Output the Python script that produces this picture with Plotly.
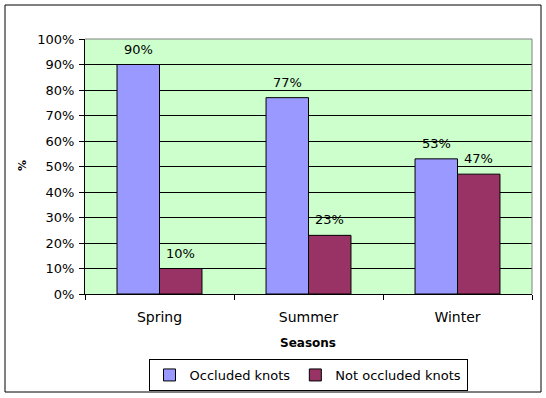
import plotly.graph_objects as go

categories = ["Spring", "Summer", "Winter"]
occluded = [90, 77, 53]
not_occluded = [10, 23, 47]
tick_vals = [0, 10, 20, 30, 40, 50, 60, 70, 80, 90, 100]
tick_text = [f"{v}%" for v in tick_vals]

FONT = "Verdana, DejaVu Sans, Arial, sans-serif"

fig = go.Figure()
fig.add_trace(go.Bar(
    x=categories, y=occluded, name="Occluded knots",
    marker=dict(color="#9999FF", line=dict(color="black", width=1)),
))
fig.add_trace(go.Bar(
    x=categories, y=not_occluded, name="Not occluded knots",
    marker=dict(color="#993366", line=dict(color="black", width=1)),
))

L, R, T, B = 85, 14, 39, 104
W, H = 546, 398
pw, ph = W - L - R, H - T - B

def px(x):
    return (x - L) / pw

def py(y):
    return (H - B - y) / ph

annotations = []
for series, shift in ((occluded, -21), (not_occluded, 21)):
    for cat, v in zip(categories, series):
        annotations.append(dict(
            x=cat, y=v, xref="x", yref="y", text=f"{v}%", showarrow=False,
            xshift=shift, yanchor="bottom", yshift=6,
            font=dict(size=13, family=FONT, color="black"),
        ))

annotations += [
    dict(text="<b>Seasons</b>", xref="paper", yref="paper",
         x=px(308), y=py(343), xanchor="center", yanchor="middle",
         showarrow=False, font=dict(size=12, family=FONT)),
    dict(text="<b>%</b>", xref="paper", yref="paper",
         x=px(22), y=py(166), xanchor="center", yanchor="middle",
         textangle=-90, showarrow=False, font=dict(size=11, family=FONT)),
]

fig.update_layout(
    width=W, height=H,
    margin=dict(l=L, r=R, t=T, b=B, pad=0, autoexpand=False),
    paper_bgcolor="white", plot_bgcolor="#CCFFCC",
    barmode="group", bargap=0.43, bargroupgap=0,
    font=dict(family=FONT, color="black", size=12),
    showlegend=True,
    legend=dict(
        orientation="h", x=px(308), xanchor="center",
        yref="container", y=1 - 359 / H, yanchor="top",
        bordercolor="black", borderwidth=1, bgcolor="white",
        font=dict(size=13, family=FONT), itemwidth=30, tracegroupgap=0,
    ),
    xaxis=dict(
        showline=True, linecolor="black", linewidth=1,
        ticks="outside", ticklen=5, tickcolor="black",
        tickson="boundaries", showgrid=False, automargin=False,
        tickfont=dict(size=14, family=FONT), ticklabelstandoff=10,
    ),
    yaxis=dict(
        range=[0, 100], tickvals=tick_vals, ticktext=tick_text,
        showline=True, linecolor="black", linewidth=1,
        ticks="outside", ticklen=5, tickcolor="black", automargin=False,
        showgrid=True, gridcolor="black", gridwidth=1, zeroline=False,
        tickfont=dict(size=13, family=FONT), ticklabelstandoff=2,
    ),
    shapes=[
        dict(type="line", xref="paper", yref="paper", x0=0, x1=1, y0=1, y1=1,
             line=dict(color="#808080", width=1), layer="above"),
        dict(type="line", xref="paper", yref="paper", x0=1, x1=1, y0=0, y1=1,
             line=dict(color="#808080", width=1), layer="above"),
        dict(type="rect", xref="paper", yref="paper",
             x0=px(5), x1=px(541), y0=py(5), y1=py(392),
             line=dict(color="black", width=1), layer="below"),
    ],
    annotations=annotations,
)

fig.write_html("out.html")
